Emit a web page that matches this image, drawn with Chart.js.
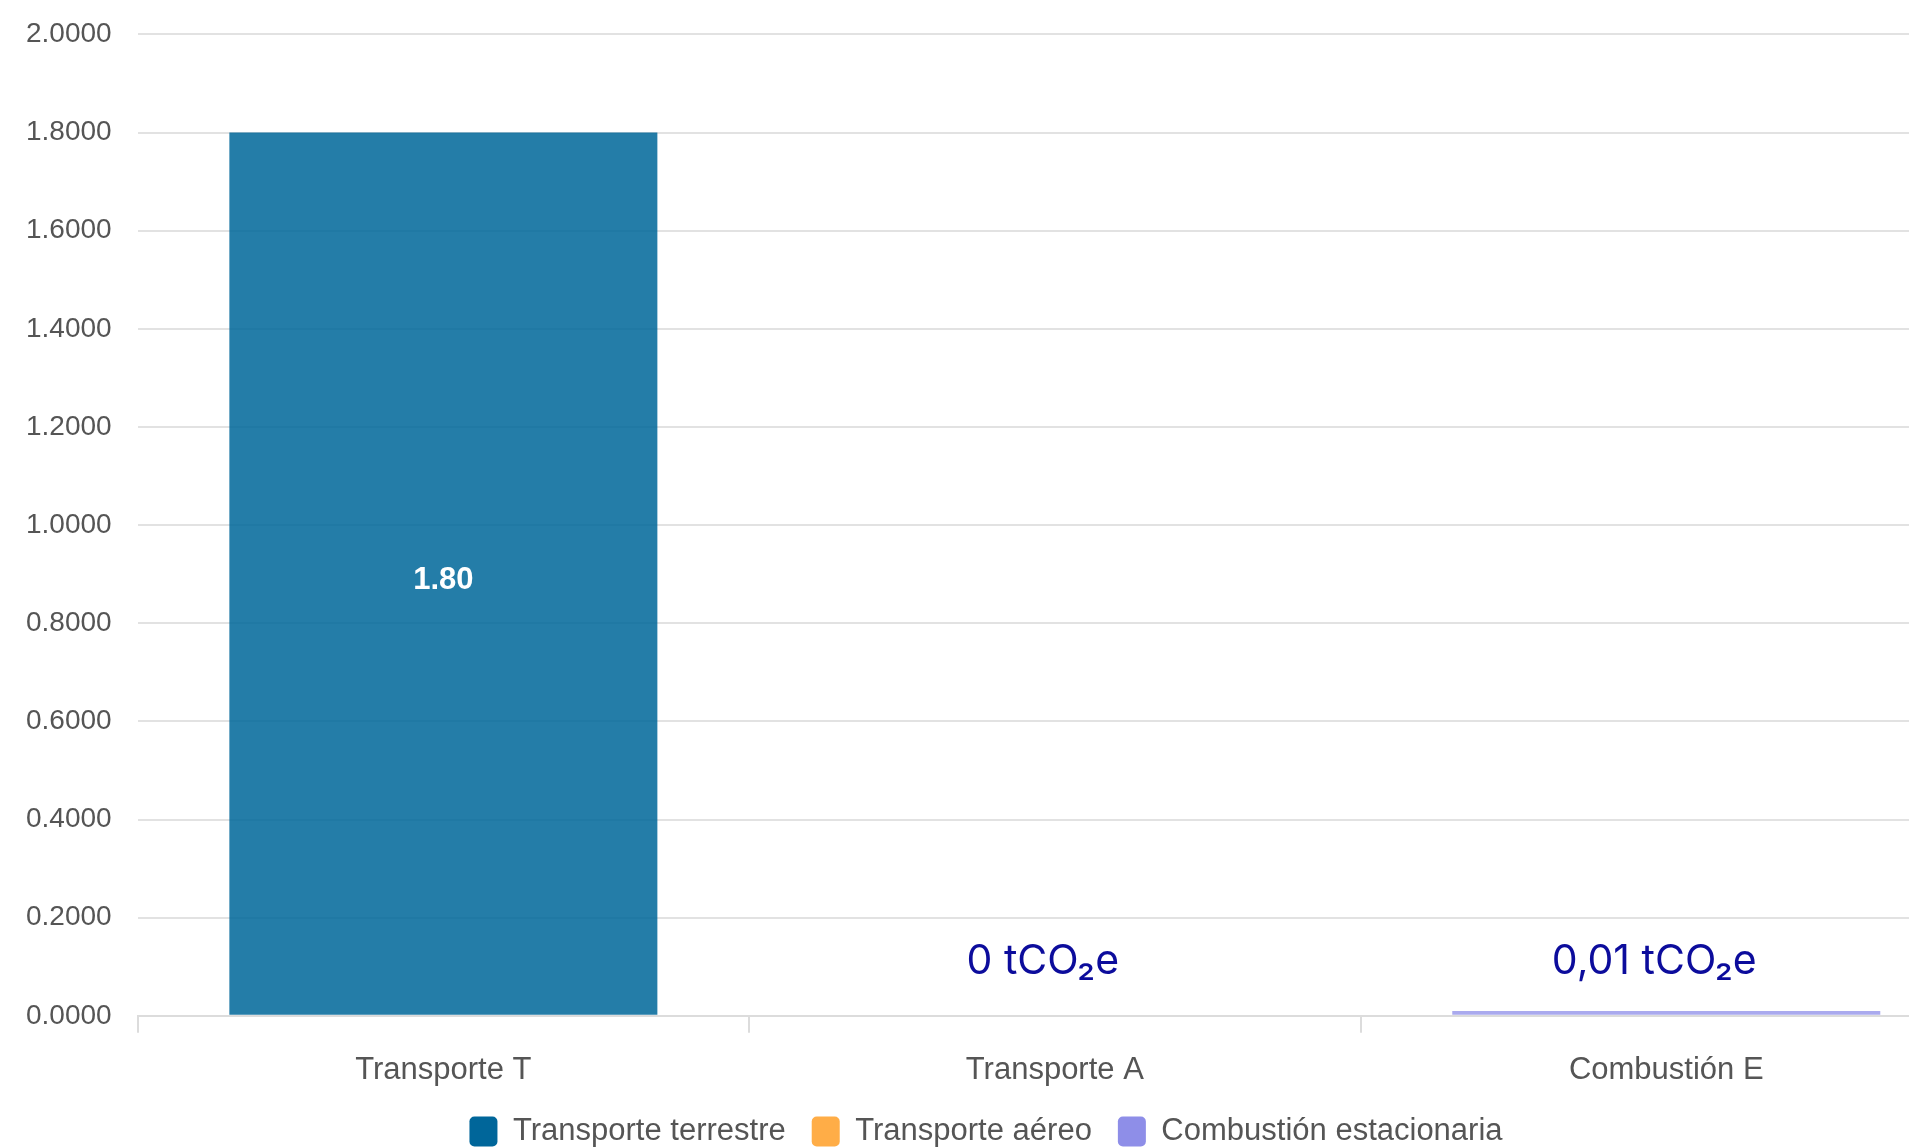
<!DOCTYPE html>
<html>
<head>
<meta charset="utf-8">
<script src="https://cdn.jsdelivr.net/npm/chart.js@4.4.1/dist/chart.umd.min.js"></script>
<style>
  html, body { margin: 0; padding: 0; background: #fff; overflow: hidden; }
  #wrap { width: 1972px; height: 1147px; position: relative; }
</style>
</head>
<body>
<div id="wrap"><canvas id="myChart"></canvas></div>
<script>
const categories = ['Transporte T', 'Transporte A', 'Combustión E']
const seriesNames = ['Transporte terrestre', 'Transporte aéreo', 'Combustión estacionaria']
const terrestre = [1.80, null, null]
const aereo = [null, 0, null]
const combustion = [null, null, 0.01]
const yTicks = [0, 0.2, 0.4, 0.6, 0.8, 1.0, 1.2, 1.4, 1.6, 1.8, 2.0]

const solidColors = ['#00669a', '#ffad47', '#8e8ee8']
const barColors = ['rgba(0, 104, 154, 0.86)', 'rgba(255, 173, 71, 0.8)', 'rgba(142, 142, 232, 0.75)']

// labels on bars: big ones get the number inside, tiny ones get a text above
const barLabels = {
    id: 'barLabels',
    afterDatasetsDraw(chart) {
        const ctx = chart.ctx
        chart.data.datasets.forEach((ds, i) => {
            const meta = chart.getDatasetMeta(i)
            meta.data.forEach((bar, j) => {
                const v = ds.data[j]
                if (v === null || v === undefined) return
                ctx.save()
                ctx.textAlign = 'center'
                ctx.textBaseline = 'middle'
                if (bar.base - bar.y > 80) {
                    ctx.fillStyle = '#ffffff'
                    ctx.font = 'bold 31px "Liberation Sans", Arial, sans-serif'
                    ctx.fillText(v.toFixed(2), bar.x, (bar.y + bar.base) / 2 + 7)
                } else {
                    ctx.fillStyle = '#0c0c9c'
                    ctx.font = '41px Inter, "DejaVu Sans", sans-serif'
                    const txt = String(v).replace('.', ',') + ' tCO\u2082e'
                    ctx.fillText(txt, bar.x - 12, chart.scales.y.getPixelForValue(0) - 54)
                }
                ctx.restore()
            })
        })
    }
}

const ctx = document.getElementById('myChart').getContext('2d')
const myChart = new Chart(ctx, {
    type: 'bar',
    data: {
        labels: categories,
        datasets: [terrestre, aereo, combustion].map((d, i) => ({
            label: seriesNames[i],
            data: d,
            backgroundColor: barColors[i],
            borderColor: barColors[i],
            borderWidth: 0
        }))
    },
    options: {
        responsive: true,
        maintainAspectRatio: false,
        animation: false,
        categoryPercentage: 0.8,
        barPercentage: 0.875,
        layout: { padding: { top: 0, left: 0, right: 0, bottom: -10 } },
        scales: {
            x: {
                stacked: true,
                afterFit: axis => { axis.height -= 18 },
                grid: { drawOnChartArea: false, drawTicks: true, tickLength: 17, color: '#dcdcdc', lineWidth: 2 },
                border: { display: true, color: '#dcdcdc', width: 2 },
                ticks: { color: '#555', padding: 19, font: { size: 31, family: '"Liberation Sans", Arial, sans-serif' } }
            },
            y: {
                stacked: true,
                min: 0,
                max: 2,
                afterBuildTicks: axis => { axis.ticks = yTicks.map(v => ({ value: v })) },
                grid: { color: '#e2e2e2', lineWidth: 2, drawTicks: false },
                border: { display: false },
                ticks: {
                    color: '#555',
                    padding: 26,
                    font: { size: 28, lineHeight: 0.6, family: '"Liberation Sans", Arial, sans-serif' },
                    callback: v => v.toFixed(4)
                }
            }
        },
        plugins: {
            tooltip: { enabled: false },
            legend: {
                position: 'bottom',
                labels: {
                    color: '#555',
                    boxWidth: 28,
                    boxHeight: 30,
                    padding: 26,
                    useBorderRadius: true,
                    borderRadius: 5,
                    font: { size: 31, family: '"Liberation Sans", Arial, sans-serif' },
                    generateLabels: chart => chart.data.datasets.map((ds, i) => ({
                        text: ds.label,
                        fillStyle: solidColors[i],
                        strokeStyle: solidColors[i],
                        lineWidth: 0,
                        borderRadius: 5,
                        fontColor: '#555',
                        datasetIndex: i
                    }))
                }
            }
        }
    },
    plugins: [barLabels]
})
</script>
</body>
</html>
